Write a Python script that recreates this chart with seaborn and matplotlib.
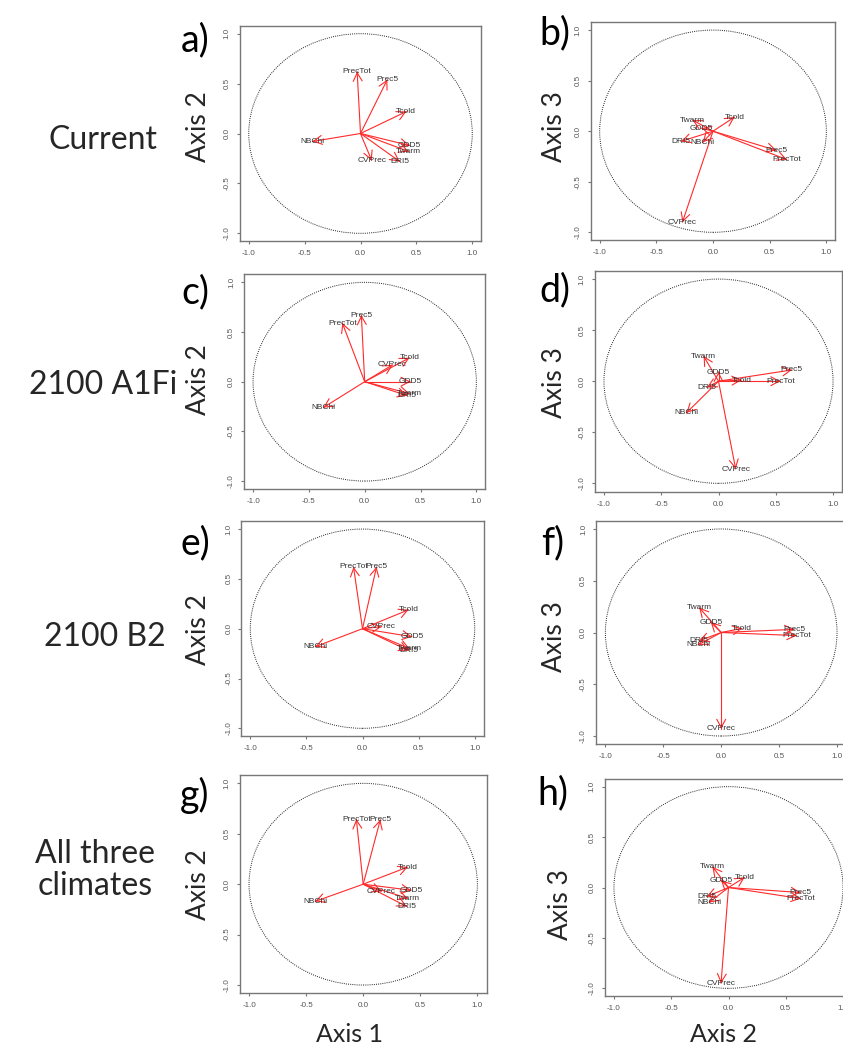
import numpy as np
import pandas as pd
import matplotlib
matplotlib.use("Agg")
import matplotlib.pyplot as plt
from matplotlib.patches import Circle
import seaborn as sns

sns.set_style("white")
plt.rcParams['font.family'] = ['Liberation Sans', 'DejaVu Sans']

# ---------------- data ----------------
variables = ["PrecTot", "Prec5", "Tcold", "NBChi", "GDD5", "Twarm", "DRI5", "CVPrec"]

# panel a: Current, Axis1 vs Axis2
a_x = [-0.03, 0.24, 0.41, -0.43, 0.44, 0.43, 0.35, 0.10]
a_y = [0.62, 0.54, 0.22, -0.08, -0.12, -0.18, -0.28, -0.27]
# panel b: Current, Axis2 vs Axis3
b_x = [0.65, 0.56, 0.19, -0.09, -0.10, -0.18, -0.28, -0.27]
b_y = [-0.28, -0.19, 0.14, -0.11, 0.03, 0.11, -0.10, -0.90]
# panel c: 2100 A1Fi, Axis1 vs Axis2
c_x = [-0.20, -0.03, 0.40, -0.37, 0.41, 0.40, 0.38, 0.25]
c_y = [0.59, 0.67, 0.24, -0.26, 0.00, -0.12, -0.14, 0.17]
# panel d: 2100 A1Fi, Axis2 vs Axis3
d_x = [0.54, 0.64, 0.20, -0.28, 0.00, -0.13, -0.10, 0.15]
d_y = [0.00, 0.11, 0.01, -0.31, 0.09, 0.245, -0.06, -0.86]
# panel e: 2100 B2, Axis1 vs Axis2
e_x = [-0.08, 0.125, 0.41, -0.42, 0.44, 0.42, 0.41, 0.17]
e_y = [0.62, 0.62, 0.19, -0.18, -0.08, -0.20, -0.22, 0.02]
# panel f: 2100 B2, Axis2 vs Axis3
f_x = [0.65, 0.63, 0.18, -0.20, -0.09, -0.19, -0.19, 0.00]
f_y = [-0.03, 0.03, 0.04, -0.12, 0.10, 0.24, -0.08, -0.93]
# panel g: All three climates, Axis1 vs Axis2
g_x = [-0.06, 0.15, 0.39, -0.42, 0.42, 0.39, 0.38, 0.16]
g_y = [0.645, 0.64, 0.17, -0.17, -0.06, -0.14, -0.22, -0.07]
# panel h: All three climates, Axis2 vs Axis3
h_x = [0.63, 0.63, 0.14, -0.17, -0.065, -0.14, -0.19, -0.065]
h_y = [-0.11, -0.05, 0.10, -0.15, 0.07, 0.205, -0.09, -0.95]

panel_letters = ["a)", "b)", "c)", "d)", "e)", "f)", "g)", "h)"]
row_titles = ["Current", "2100 A1Fi", "2100 B2", "All three\nclimates"]
left_ylabel = "Axis 2"
right_ylabel = "Axis 3"
bottom_labels = ["Axis 1", "Axis 2"]
tick_values = [-1.0, -0.5, 0.0, 0.5, 1.0]
tick_labels = ["-1.0", "-0.5", "0.0", "0.5", "1.0"]

panel_data = [(a_x, a_y), (b_x, b_y), (c_x, c_y), (d_x, d_y),
              (e_x, e_y), (f_x, f_y), (g_x, g_y), (h_x, h_y)]

# ---------------- layout (pixel frames: left, top, right, bottom) -------
W, H = 843, 1050
frames = [
    (239.8, 25.7, 481.2, 241.3),
    (590.6, 22.0, 835.4, 240.4),
    (244.1, 274.4, 485.3, 489.0),
    (594.8, 270.9, 842.2, 491.5),
    (241.3, 521.1, 483.7, 736.3),
    (596.1, 520.7, 846.3, 744.3),
    (239.9, 775.3, 486.5, 993.1),
    (604.8, 778.6, 852.2, 996.4),
]
letter_pos = [(195, 40), (555, 33), (195, 292), (555, 290),
              (195, 543), (553, 543), (195, 795), (553, 793)]
ylab_pos = [(198, 127), (555, 127), (198, 380), (555, 383),
            (198, 630), (555, 637), (198, 885), (560, 905)]
row_pos = [(103, 140), (103, 385), (105, 637), (95, 870)]
bottom_pos = [(349, 1034), (724, 1034)]

fig = plt.figure(figsize=(W / 100, H / 100), dpi=100)
title_font = ['Lato', 'DejaVu Sans']

for i, ((px, py), (L, T, R, B)) in enumerate(zip(panel_data, frames)):
    ax = fig.add_axes([L / W, 1 - B / H, (R - L) / W, (B - T) / H])
    ax.set_xlim(-1.08, 1.08)
    ax.set_ylim(-1.08, 1.08)
    # unit circle (dotted)
    ax.add_patch(Circle((0, 0), 1.0, fill=False, ls=(0, (1, 1.2)),
                        lw=0.7, ec="#222222"))
    # arrow shafts via seaborn
    n = len(variables)
    df = pd.DataFrame({
        "var": variables * 2,
        "x": [0.0] * n + list(px),
        "y": [0.0] * n + list(py),
        "o": [0] * n + [1] * n,
    }).sort_values(["var", "o"])
    sns.lineplot(data=df, x="x", y="y", units="var", estimator=None,
                 sort=False, color="#ff2a2a", lw=0.8, ax=ax, legend=False)
    for v, x, y in zip(variables, px, py):
        ax.annotate("", xy=(x, y), xytext=(0.97 * x, 0.97 * y),
                    arrowprops=dict(arrowstyle="->,head_length=0.6,head_width=0.32",
                                    color="#ff2a2a", lw=0.8, shrinkA=0, shrinkB=0,
                                    mutation_scale=10))
        ax.text(x, y, v, fontsize=6, color="#333333", ha="center", va="center")
    ax.set_xticks(tick_values)
    ax.set_yticks(tick_values)
    ax.set_xticklabels(tick_labels)
    ax.set_yticklabels(tick_labels, rotation=90, va="center")
    ax.tick_params(axis="both", labelsize=5.8, labelcolor="#555555", length=2.5,
                   width=0.8, color="#777777", direction="out", pad=4,
                   bottom=True, left=True)
    ax.set_xlabel("")
    ax.set_ylabel("")
    for s in ax.spines.values():
        s.set_color("#777777")
        s.set_linewidth(1.0)

    lx, ly = letter_pos[i]
    fig.text(lx / W, 1 - ly / H, panel_letters[i], fontsize=27, family=title_font,
             ha="center", va="center", color="black")
    yx, yy = ylab_pos[i]
    fig.text(yx / W, 1 - yy / H, left_ylabel if i % 2 == 0 else right_ylabel,
             fontsize=19, family=title_font, rotation=90, ha="center", va="center")

for t, (rx, ry) in zip(row_titles, row_pos):
    fig.text(rx / W, 1 - ry / H, t, fontsize=23, family=title_font,
             ha="center", va="center", linespacing=1.05)
for t, (bx, by) in zip(bottom_labels, bottom_pos):
    fig.text(bx / W, 1 - by / H, t, fontsize=18, family=title_font,
             ha="center", va="center")

fig.savefig("out.png", dpi=100, facecolor="white")
